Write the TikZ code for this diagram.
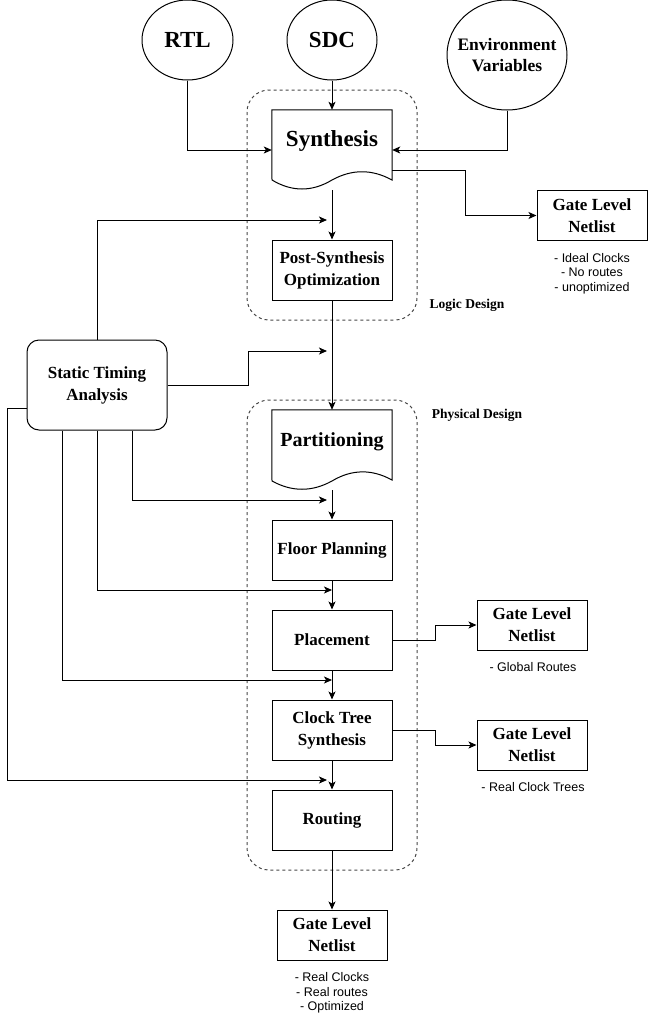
\documentclass[tikz,border=0pt]{standalone}
\usepackage{fontspec}
\setmainfont{Liberation Serif}
\newfontfamily\notefont{Liberation Sans}
\usepackage{tikz}
\usetikzlibrary{arrows.meta,shapes.geometric,positioning}
\usepackage{xcolor}
\definecolor{grpgray}{RGB}{70,70,70}
\tikzstyle{arrow} = [line width=1pt,-{Stealth[length=8pt,width=7pt,inset=2pt]}]
\tikzstyle{wire} = [line width=1pt]
\tikzstyle{source} = [ellipse, draw, line width=1pt, inner sep=0pt, font=\bfseries\fontsize{23}{27}\selectfont]
\tikzstyle{stage} = [rectangle, draw, line width=1pt, minimum width=120pt, minimum height=60pt, align=center, font=\bfseries\fontsize{17}{22}\selectfont]
\tikzstyle{netlist} = [stage, minimum width=110pt, minimum height=50pt]
\tikzstyle{docshape} = [rectangle, minimum width=120pt, minimum height=80pt]
\tikzstyle{note} = [align=center, inner sep=0pt, font=\notefont\fontsize{12.5}{14.5}\selectfont]
\tikzstyle{phase} = [draw=grpgray, line width=1pt, dash pattern=on 3pt off 3pt, rounded corners=22pt]
\tikzstyle{phaselabel} = [font=\bfseries\fontsize{13.5}{16}\selectfont]

\begin{document}
\begin{tikzpicture}[x=1pt, y=-1pt]
\useasboundingbox (0,0) rectangle (648,1021);

% Design phases
\draw[phase] (247,90) rectangle (417,320);
\node[phaselabel] (logiclbl) at (467,305) {Logic Design};
\draw[phase] (247,400) rectangle (417,870);
\node[phaselabel] (physlbl) at (477,415) {Physical Design};

% Inputs
\node[source, minimum width=91pt, minimum height=80pt] (rtl) at (187.5,40) {RTL};
\node[source, minimum width=90pt, minimum height=80pt] (sdc) at (332,40) {SDC};
\node[source, minimum width=120pt, minimum height=110pt, label={[align=center, font=\bfseries\fontsize{17.5}{21}\selectfont]center:Environment\\Variables}] (env) at (507,55) {};

% Logic design flow
\node[docshape] (syn) at (332,150) {};
\draw[wire] (syn.north west) -- (syn.north east) -- (392,180) .. controls (372,169) and (352,169) .. (332,180) .. controls (312,192) and (292,192) .. (272,180) -- cycle;
\node[font=\bfseries\fontsize{23}{27}\selectfont] (synlbl) at (332,141) {Synthesis};
\node[stage] (post) at (332,270) {Post-Synthesis\\Optimization};

\node[netlist] (gln1) at (592,215.5) {Gate Level\\Netlist};
\node[note] (note1) at (592,273.5) {- Ideal Clocks\\- No routes\\- unoptimized};

% Physical design flow
\node[docshape] (part) at (332,450) {};
\draw[wire] (part.north west) -- (part.north east) -- (392,480) .. controls (372,469) and (352,469) .. (332,481) .. controls (312,492) and (292,492) .. (272,481) -- cycle;
\node[font=\bfseries\fontsize{20}{24}\selectfont] (partlbl) at (332,442) {Partitioning};
\node[stage] (floor) at (332,550) {Floor Planning};
\node[stage] (place) at (332,640) {Placement};
\node[stage] (cts) at (332,730) {Clock Tree\\Synthesis};
\node[stage] (route) at (332,820) {Routing};

\node[netlist] (gln2) at (532,625) {Gate Level\\Netlist};
\node[note] (note2) at (533,667) {- Global Routes};
\node[netlist] (gln3) at (532,745) {Gate Level\\Netlist};
\node[note] (note3) at (533,787) {- Real Clock Trees};
\node[netlist] (gln4) at (332,935) {Gate Level\\Netlist};
\node[note] (note4) at (332,993) {- Real Clocks\\- Real routes\\- Optimized};

% Static timing analysis
\node[stage, rounded corners=12pt, minimum width=140pt, minimum height=90pt] (sta) at (97,385) {Static Timing\\Analysis};
\coordinate (fb1) at (327,220);
\coordinate (fb2) at (327,351);
\coordinate (fb3) at (327,500);
\coordinate (fb4) at (332,590);
\coordinate (fb5) at (332,680);
\coordinate (fb6) at (327,780);

% Main flow arrows
\draw[arrow] (sdc.south) -- (syn.north);
\draw[arrow] (rtl.south) |- (syn.west);
\draw[arrow] (env.south) |- (syn.east);
\draw[arrow] ([yshift=-20pt]syn.east) -- ++(73,0) |- (gln1.west);
\draw[arrow] (syn.south) -- (post.north);
\draw[arrow] (post.south) -- (part.north);
\draw[arrow] (part.south) -- (floor.north);
\draw[arrow] (floor.south) -- (place.north);
\draw[arrow] (place.south) -- (cts.north);
\draw[arrow] (cts.south) -- (route.north);
\draw[arrow] (route.south) -- (gln4.north);
\draw[arrow] (place.east) -- ++(43,0) |- (gln2.west);
\draw[arrow] (cts.east) -- ++(43,0) |- (gln3.west);

% Timing feedback
\draw[arrow] (sta.north) |- (fb1);
\draw[arrow] (sta.east) -- ++(80.5,0) |- (fb2);
\draw[arrow] ([xshift=35pt]sta.south) |- (fb3);
\draw[arrow] (sta.south) |- (fb4);
\draw[arrow] ([xshift=-35pt]sta.south) |- (fb5);
\draw[arrow] ([yshift=-23pt]sta.west) -- ++(-19,0) |- (fb6);
\end{tikzpicture}
\end{document}
